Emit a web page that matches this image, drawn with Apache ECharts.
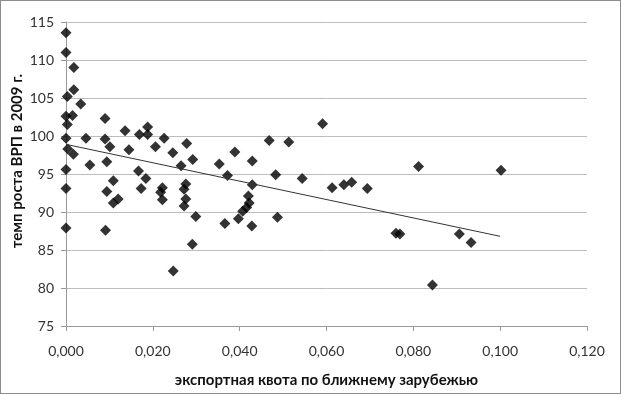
<!DOCTYPE html>
<html>
<head>
<meta charset="utf-8">
<script src="https://cdn.jsdelivr.net/npm/echarts@6/dist/echarts.min.js"></script>
<style>
  html, body { margin: 0; padding: 0; background: #fff; }
  #chart { width: 621px; height: 394px; box-sizing: border-box; border: 1px solid #8c8c8c; }
</style>
</head>
<body>
<div id="chart"></div>
<script>
// export quota to near abroad (x) vs GRP growth rate 2009 (y)
const exportQuota = [
  0.000, 0.000, 0.0018, 0.0018, 0.0003, 0.0034, 0.000, 0.0015, 0.0003, 0.009,
  0.0136, 0.0169, 0.0188, 0.0188, 0.0226, 0.0046, 0.009, 0.000, 0.0278, 0.0004,
  0.0017, 0.0101, 0.0145, 0.0206, 0.0246, 0.0292, 0.0055, 0.0094, 0.0265, 0.000,
  0.0167, 0.0184, 0.0109, 0.000, 0.0094, 0.0173, 0.0222, 0.0218, 0.0276, 0.0272,
  0.0222, 0.0276, 0.0109, 0.012, 0.0272, 0.0299, 0.000, 0.0091, 0.0291, 0.0247,
  0.0591, 0.0468, 0.0513, 0.0389, 0.0353, 0.0429, 0.0372, 0.0483, 0.0544, 0.0429,
  0.0613, 0.064, 0.0658, 0.0694, 0.042, 0.0422, 0.0416, 0.0407, 0.0397, 0.0487,
  0.0366, 0.0428, 0.0812, 0.1002, 0.076, 0.0769, 0.0906, 0.0933, 0.0844
];
const growthRate = [
  113.6, 111.0, 109.0, 106.1, 105.2, 104.2, 102.6, 102.7, 101.5, 102.3,
  100.7, 100.2, 101.2, 100.2, 99.7, 99.7, 99.6, 99.7, 99.0, 98.3,
  97.6, 98.6, 98.2, 98.6, 97.8, 96.9, 96.2, 96.6, 96.1, 95.6,
  95.4, 94.4, 94.1, 93.1, 92.7, 93.1, 93.2, 92.6, 93.7, 93.0,
  91.6, 91.7, 91.2, 91.7, 90.8, 89.4, 87.9, 87.6, 85.75, 82.25,
  101.6, 99.4, 99.2, 97.9, 96.3, 96.7, 94.8, 94.9, 94.4, 93.6,
  93.2, 93.6, 93.9, 93.1, 92.1, 91.2, 90.6, 90.1, 89.1, 89.3,
  88.5, 88.15, 96.0, 95.5, 87.2, 87.1, 87.1, 86.0, 80.4
];
// linear trend line ends
const trendX = [0, 0.1];
const trendY = [98.9, 86.8];

const xTicks = [0, 0.02, 0.04, 0.06, 0.08, 0.1, 0.12];
const yTicks = [75, 80, 85, 90, 95, 100, 105, 110, 115];

const font = "Lato, 'Open Sans', sans-serif";
const chart = echarts.init(document.getElementById("chart"));

chart.setOption({
  animation: false,
  grid: {left: 65, right: 33, top: 21, bottom: 66},
  xAxis: {
    type: "value",
    min: xTicks[0],
    max: xTicks[xTicks.length - 1],
    interval: 0.02,
    name: "экспортная квота по ближнему зарубежью",
    nameLocation: "middle",
    nameGap: 47,
    nameTextStyle: {fontFamily: font, fontWeight: "bold", fontSize: 15, color: "#111"},
    axisLine: {lineStyle: {color: "#9a9a9a"}},
    axisTick: {show: true, length: 5, lineStyle: {color: "#9a9a9a"}},
    axisLabel: {
      fontFamily: font, fontSize: 14, color: "#333", margin: 18,
      formatter: v => v.toFixed(3).replace(".", ","),
    },
    splitLine: {show: false},
  },
  yAxis: {
    type: "value",
    min: yTicks[0],
    max: yTicks[yTicks.length - 1],
    interval: 5,
    axisLine: {show: true, lineStyle: {color: "#9a9a9a"}},
    axisTick: {show: true, length: 5, lineStyle: {color: "#9a9a9a"}},
    axisLabel: {fontFamily: font, fontSize: 14, color: "#333", margin: 12},
    splitLine: {show: true, lineStyle: {color: "#bdbdbd"}},
  },
  graphic: [{
    type: "text",
    x: 16, y: 160,
    rotation: Math.PI / 2,
    style: {
      text: "темп роста ВРП в 2009 г.",
      fontFamily: font, fontWeight: "bold", fontSize: 15, fill: "#111",
      align: "center", verticalAlign: "middle",
    },
  }],
  series: [
    {
      type: "scatter",
      symbol: "diamond",
      symbolSize: 11,
      itemStyle: {color: "#000"},
      data: exportQuota.map((x, i) => [x, growthRate[i]]),
      z: 3,
    },
    {
      type: "line",
      data: trendX.map((x, i) => [x, trendY[i]]),
      showSymbol: false,
      lineStyle: {color: "#333", width: 1},
      z: 4,
    },
  ],
});
</script>
</body>
</html>
